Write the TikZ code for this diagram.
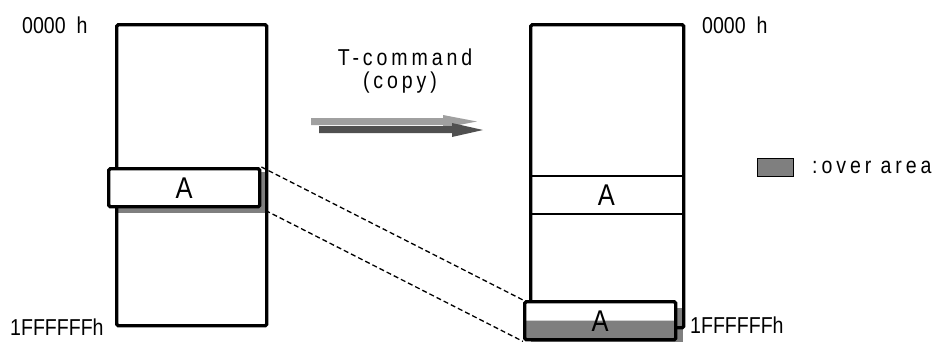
\documentclass[tikz,border=0pt]{standalone}
\usepackage{fontspec}
\usepackage{graphicx}
\setmainfont{Liberation Sans}
\newfontfamily\spacedfont[LetterSpace=20]{Liberation Sans}
\newcommand{\nar}[1]{\scalebox{0.85}[1]{#1}}
\definecolor{overgray}{HTML}{7F7F7F}
\definecolor{arrlight}{HTML}{A0A0A0}
\definecolor{arrdark}{HTML}{505050}
\begin{document}
\begin{tikzpicture}[x=1pt,y=-1pt,
  col/.style={draw, line width=3.4pt, rounded corners=1.5pt, inner sep=0pt, anchor=north west},
  shadow/.style={fill=overgray, inner sep=0pt, anchor=north west},
  sec/.style={draw, line width=1.5pt, inner sep=0pt, anchor=north west},
  lbl/.style={inner sep=0pt, font=\fontsize{23}{25}\selectfont},
  splbl/.style={inner sep=0pt, font=\fontsize{23}{25}\selectfont\spacedfont},
  alabel/.style={font=\fontsize{30}{31}\selectfont},
  link/.style={line width=1.3pt, dash pattern=on 5pt off 3pt}
]
\useasboundingbox (0,0) rectangle (934,341);

% ---- left memory ----
\node[shadow, minimum width=150, minimum height=41] (shL) at (115,172) {};
\node[col, minimum width=150, minimum height=301] (colL) at (115,23) {};
\node[col, fill=white, minimum width=151, minimum height=38, alabel] (boxL) at (107,167) {\nar{A}};

% ---- right memory ----
\node[shadow, minimum width=152, minimum height=38] (shR) at (531,308) {};
\node[sec, minimum width=153, minimum height=38, alabel] (secR) at (529,175) {\nar{A}};
\node[col, minimum width=153, minimum height=303] (colR) at (529,23) {};
\node[col, fill=white, minimum width=151, minimum height=38,
  path picture={\fill[overgray] (path picture bounding box.west) rectangle (path picture bounding box.south east);}] (boxR) at (523,300) {};
\node[alabel] (boxRA) at (boxR.center) {\nar{A}};

% ---- dashed links ----
\coordinate (linkL) at (shL.south east);
\draw[link] (boxL.north east) -- (boxR.north west);
\draw[link] ([yshift=3pt]linkL) -- (boxR.south west);

% ---- address labels ----
\node[lbl, anchor=west] (topL) at (22,25) {\nar{0000\ \ h}};
\node[lbl, anchor=west] (botL) at (10,327) {\nar{1FFFFFFh}};
\node[lbl, anchor=west] (topR) at (702,25) {\nar{0000\ \ h}};
\node[lbl, anchor=west] (botR) at (690,325) {\nar{1FFFFFFh}};

% ---- command arrow ----
\node[splbl] (cmd) at (405,57) {\nar{T-command}};
\node[splbl] (cpy) at (400,83) {\nar{(copy)}};
\fill[arrlight] (311,118) -- (443,118) -- (443,115) -- (477,121.5) -- (443,128) -- (443,125) -- (311,125) -- cycle;
\fill[arrdark] (319,126) -- (452,126) -- (452,123) -- (483,130) -- (452,137) -- (452,133) -- (319,133) -- cycle;

% ---- legend ----
\node[draw, line width=1.2pt, fill=overgray, inner sep=0pt, anchor=north west, minimum width=36, minimum height=18] (leg) at (757,158) {};
\node[splbl, anchor=west] (legtxt) at (812,167) {\nar{:over area}};
\end{tikzpicture}
\end{document}
